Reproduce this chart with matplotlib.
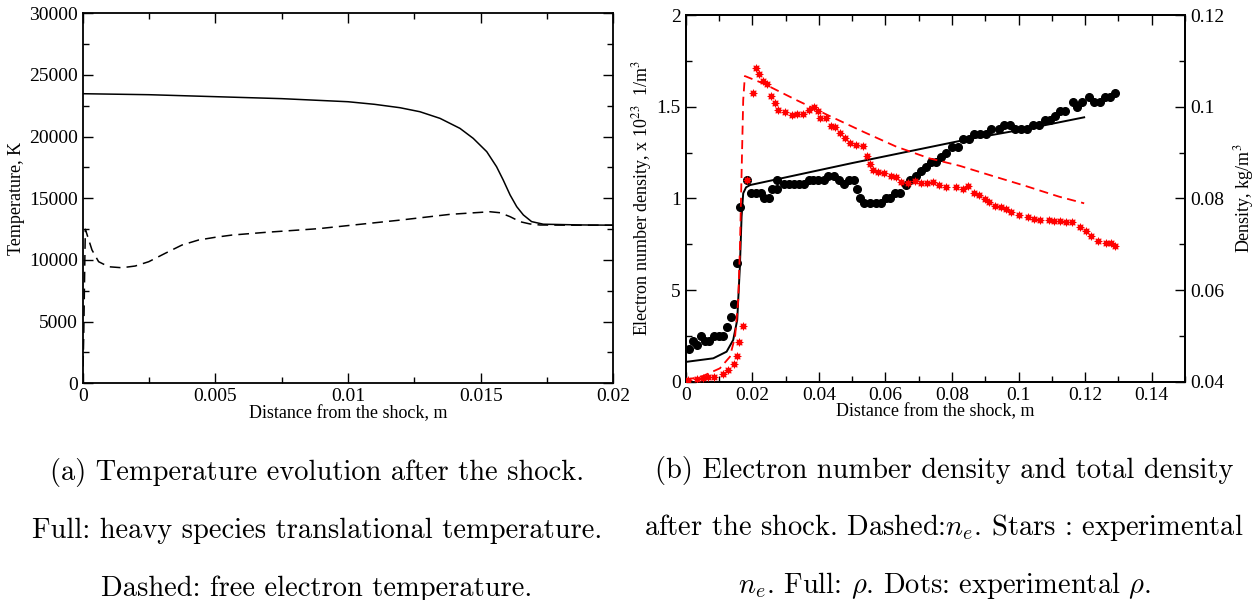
import matplotlib
matplotlib.use("Agg")
import matplotlib.pyplot as plt
from matplotlib.ticker import MultipleLocator, FixedLocator, FixedFormatter

plt.rcParams['font.family'] = ['Liberation Serif', 'DejaVu Serif']
plt.rcParams['mathtext.fontset'] = 'stix'

# ---- panel (a): temperatures ----
xh = [0, 0.0025, 0.005, 0.0075, 0.01, 0.011, 0.01196, 0.01271, 0.01347, 0.01422,
      0.01472, 0.01523, 0.0156, 0.01585, 0.01611, 0.01636, 0.01661, 0.01692, 0.01736,
      0.01875, 0.02]
Th = [23480, 23400, 23240, 23080, 22830, 22620, 22345, 22020, 21480, 20670,
      19860, 18780, 17560, 16485, 15270, 14320, 13650, 13110, 12900,
      12840, 12820]

xe = [0, 0.00004, 0.00008, 0.0001, 0.00035, 0.0006, 0.00098, 0.00148, 0.00198, 0.00249,
      0.00311, 0.00374, 0.00437, 0.005, 0.00563, 0.0069, 0.0089, 0.012, 0.01385,
      0.01535, 0.01573, 0.01611, 0.01649, 0.01686, 0.01724, 0.0185, 0.02]
Te = [0, 4000, 10000, 12490, 10810, 9860, 9450, 9370, 9510, 9860,
      10540, 11210, 11620, 11840, 12020, 12240, 12540, 13240, 13700,
      13910, 13830, 13510, 13100, 12920, 12835, 12820, 12820]

# ---- panel (b): electron number density (x1e23) and total density ----
xne = [0, 0.005, 0.01025, 0.01325, 0.0148, 0.01575, 0.01625, 0.01725, 0.01775,
       0.02324, 0.03325, 0.04324, 0.05322, 0.06324, 0.07322, 0.0822, 0.0922,
       0.1022, 0.1122, 0.1197]
ne = [0.01, 0.03, 0.073, 0.136, 0.245, 0.446, 0.72, 1.536, 1.667,
      1.627, 1.536, 1.449, 1.364, 1.282, 1.218, 1.178, 1.122,
      1.067, 1.009, 0.973]

xne_exp = [0.00075, 0.00327, 0.00507, 0.00675, 0.00855, 0.0111, 0.01275, 0.01445, 0.01526,
           0.01604, 0.01724, 0.0183, 0.0203, 0.02105, 0.02205, 0.02305, 0.02445, 0.02575,
           0.02695, 0.02775, 0.02995, 0.03195, 0.03355, 0.0352, 0.0369, 0.03855, 0.0397,
           0.04025, 0.0420, 0.04355, 0.04495, 0.04625, 0.04775, 0.04925, 0.05125, 0.05325,
           0.05445, 0.05525, 0.05625, 0.05775, 0.0595, 0.06175, 0.06325, 0.06475, 0.06675,
           0.06875, 0.07075, 0.07255, 0.0742, 0.0762, 0.0782, 0.0812, 0.0832, 0.0847,
           0.0865, 0.0882, 0.09, 0.0912, 0.093, 0.0947, 0.0962, 0.0977, 0.1, 0.1027,
           0.1047, 0.1065, 0.109, 0.1107, 0.1125, 0.1142, 0.116, 0.1184, 0.1202, 0.1219,
           0.124, 0.1262, 0.1277, 0.129]
ne_exp = [0.01, 0.015, 0.02, 0.024, 0.027, 0.042, 0.064, 0.095, 0.142,
          0.215, 0.305, 1.1, 1.573, 1.709, 1.678, 1.642, 1.624, 1.558,
          1.518, 1.482, 1.469, 1.455, 1.46, 1.46, 1.482, 1.5, 1.476,
          1.44, 1.437, 1.395, 1.387, 1.355, 1.327, 1.304, 1.291, 1.286,
          1.233, 1.187, 1.155, 1.145, 1.137, 1.124, 1.115, 1.091, 1.085,
          1.095, 1.082, 1.082, 1.091, 1.073, 1.06, 1.06, 1.049, 1.067,
          1.031, 1.018, 0.995, 0.982, 0.96, 0.954, 0.942, 0.927, 0.909, 0.9,
          0.887, 0.882, 0.882, 0.878, 0.878, 0.873, 0.873, 0.842, 0.824, 0.796,
          0.769, 0.755, 0.755, 0.74]

xrho = [0.00045, 0.00825, 0.01226, 0.01424, 0.01545, 0.01625, 0.01676, 0.01725,
        0.0181, 0.0193, 0.05, 0.0847, 0.1032, 0.1197]
rho = [0.04436, 0.0451, 0.04655, 0.0491, 0.05346, 0.06509, 0.076, 0.0811,
       0.0824, 0.0829, 0.0877, 0.09288, 0.09528, 0.09768]

xrho_exp = [0.00105, 0.00207, 0.00327, 0.00447, 0.00576, 0.00696, 0.00855, 0.00996, 0.01124,
            0.01226, 0.01346, 0.01445, 0.01526, 0.01625, 0.01826, 0.01946, 0.02105, 0.02245,
            0.02355, 0.02505, 0.02605, 0.02755, 0.02755, 0.02945, 0.03105, 0.03255, 0.03405,
            0.03555, 0.03695, 0.03825, 0.03975, 0.04145, 0.04285, 0.04445, 0.04595, 0.04745,
            0.04895, 0.05055, 0.05145, 0.05225, 0.05355, 0.05525, 0.05705, 0.05875, 0.06005,
            0.06125, 0.06275, 0.06425, 0.06625, 0.06745, 0.06925, 0.07075, 0.07205, 0.07375,
            0.07505, 0.07675, 0.07825, 0.08, 0.0817, 0.0832, 0.085, 0.0867, 0.0884, 0.0902,
            0.0917, 0.094, 0.0957, 0.0974, 0.099, 0.1007, 0.1024, 0.1044, 0.1062, 0.1079,
            0.1094, 0.111, 0.1124, 0.114, 0.1162, 0.1175, 0.119, 0.1212, 0.1227, 0.1244,
            0.1259, 0.1275, 0.129]
rho_exp = [0.04707, 0.04894, 0.048, 0.05004, 0.04894, 0.04894, 0.05004, 0.05004, 0.05004,
           0.052, 0.05405, 0.05695, 0.0660, 0.07805, 0.0840, 0.0811, 0.0811, 0.0811,
           0.08, 0.08, 0.082, 0.082, 0.084, 0.08313, 0.08313, 0.08313, 0.08313,
           0.08313, 0.084, 0.084, 0.084, 0.084, 0.08494, 0.08494, 0.084, 0.08306,
           0.084, 0.084, 0.08204, 0.08, 0.07906, 0.07906, 0.07906, 0.07906, 0.08,
           0.08, 0.0811, 0.0811, 0.0829, 0.084, 0.08494, 0.08597, 0.08691, 0.088,
           0.088, 0.08896, 0.08996, 0.09113, 0.09113, 0.09288, 0.09288, 0.09397, 0.09397, 0.09397,
           0.09506, 0.09506, 0.096, 0.096, 0.09506, 0.09506, 0.09506, 0.096, 0.096, 0.0971,
           0.0971, 0.09797, 0.09906, 0.09906, 0.10109, 0.1, 0.10109, 0.10205, 0.10095, 0.10095,
           0.10205, 0.10205, 0.10305]

ne_ticks = [0, 0.5, 1, 1.5, 2]
ne_ticklabels = ['0', '5', '1', '1.5', '2']

W, H = 1258, 600
fig = plt.figure(figsize=(W / 100, H / 100), dpi=100)


def box(x0, y0, x1, y1):
    return [x0 / W, 1 - y1 / H, (x1 - x0) / W, (y1 - y0) / H]


def style(ax, sides):
    for s in ax.spines.values():
        s.set_linewidth(1.3)
    ax.tick_params(which='both', direction='in', labelsize=14, width=1.0, **sides)
    ax.tick_params(which='major', length=7)
    ax.tick_params(which='minor', length=4)


# panel (a)
ax1 = fig.add_axes(box(82.7, 13.3, 613.3, 383.3))
ax1.plot(xh, Th, color='black', lw=1.1)
ax1.plot(xe, Te, color='black', lw=1.1, dashes=(7, 4))
ax1.set_xlim(0, 0.02)
ax1.set_ylim(0, 30000)
ax1.xaxis.set_major_locator(MultipleLocator(0.005))
ax1.xaxis.set_minor_locator(MultipleLocator(0.0025))
ax1.yaxis.set_major_locator(MultipleLocator(5000))
ax1.yaxis.set_minor_locator(MultipleLocator(2500))
ax1.set_xticks([0, 0.005, 0.01, 0.015, 0.02], ['0', '0.005', '0.01', '0.015', '0.02'])
style(ax1, dict(top=True, right=True))
ax1.set_xlabel('Distance from the shock, m', fontsize=13, labelpad=0)
ax1.set_ylabel('Temperature, K', fontsize=13, labelpad=3)

# panel (b)
ax2 = fig.add_axes(box(685.8, 15, 1185, 381.7))
ax3 = ax2.twinx()
ax2.plot(xne, ne, color='red', lw=1.3, dashes=(5, 3), zorder=3)
ax2.plot(xne_exp, ne_exp, ls='none', marker=(8, 1, 0), ms=5.5, mfc='red', mec='red',
         mew=0.6, zorder=4)
ax3.plot(xrho, rho, color='black', lw=1.4)
ax3.plot(xrho_exp, rho_exp, ls='none', marker='o', ms=5.5, color='black')
ax2.set_zorder(ax3.get_zorder() + 1)
ax2.patch.set_visible(False)
ax2.set_xlim(0, 0.15)
ax2.set_ylim(0, 2)
ax3.set_ylim(0.04, 0.12)
ax2.set_xticks([0, 0.02, 0.04, 0.06, 0.08, 0.1, 0.12, 0.14],
               ['0', '0.02', '0.04', '0.06', '0.08', '0.1', '0.12', '0.14'])
ax2.xaxis.set_minor_locator(MultipleLocator(0.01))
ax2.yaxis.set_major_locator(FixedLocator(ne_ticks))
ax2.yaxis.set_major_formatter(FixedFormatter(ne_ticklabels))
ax2.yaxis.set_minor_locator(MultipleLocator(0.25))
ax3.set_yticks([0.04, 0.06, 0.08, 0.1, 0.12], ['0.04', '0.06', '0.08', '0.1', '0.12'])
ax3.yaxis.set_minor_locator(MultipleLocator(0.01))
style(ax2, dict(top=True, right=False))
style(ax3, dict(left=False, right=True))
ax2.set_xlabel('Distance from the shock, m', fontsize=13, labelpad=0)
ax2.set_ylabel('Electron number density, x 10$^{23}$  1/m$^{3}$', fontsize=13, labelpad=2)
ax3.set_ylabel('Density, kg/m$^{3}$', fontsize=13, labelpad=6)

# captions
cap = dict(family='cmr10', fontsize=20.5, ha='center', va='baseline', math_fontfamily='cm')
fig.text(317 / W, 1 - 480 / H, '(a) Temperature evolution after the shock.', **cap)
fig.text(317 / W, 1 - 538 / H, 'Full: heavy species translational temperature.', **cap)
fig.text(317 / W, 1 - 596 / H, 'Dashed: free electron temperature.', **cap)
fig.text(944 / W, 1 - 478 / H, '(b) Electron number density and total density', **cap)
fig.text(944 / W, 1 - 535 / H, r'after the shock. Dashed:$n_e$. Stars : experimental', **cap)
fig.text(944 / W, 1 - 593 / H, r'$n_e$. Full: $\rho$. Dots: experimental $\rho$.', **cap)

fig.savefig('out.png', dpi=100)
